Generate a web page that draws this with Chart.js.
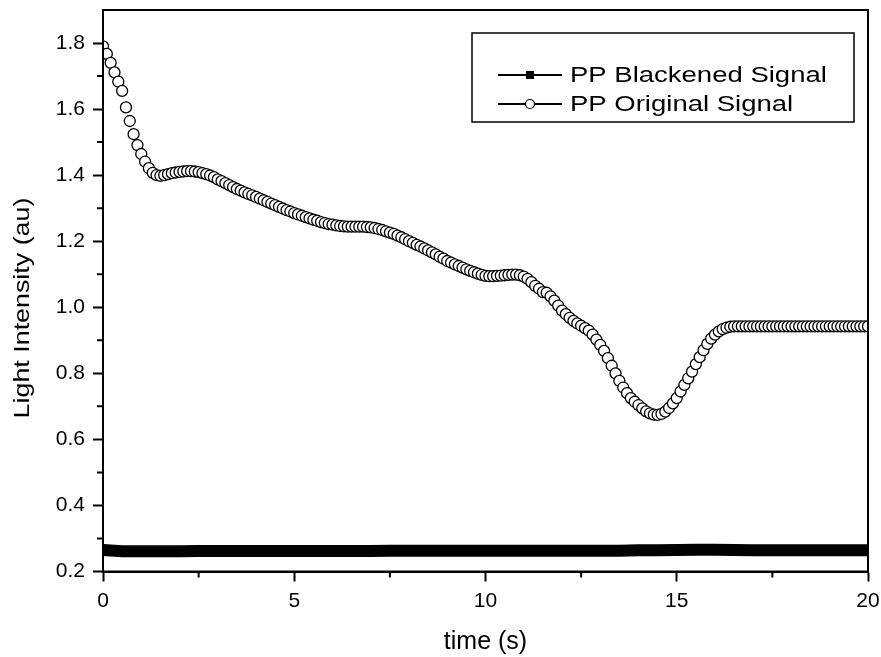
<!DOCTYPE html>
<html>
<head>
<meta charset="utf-8">
<title>PP light intensity</title>
<script src="https://cdn.jsdelivr.net/npm/chart.js@4.4.0/dist/chart.umd.min.js"></script>
<style>
html, body { margin: 0; padding: 0; background: #fff; }
#wrap { width: 881px; height: 657px; }
</style>
</head>
<body>
<div id="wrap"><canvas id="lightChart" width="881" height="657"></canvas></div>
<script>
// time axis of the original signal (s)
const originalTime = [
  0,0.1,0.2,0.3,0.4,0.5,0.6,0.7,0.8,0.9,
  1,1.1,1.2,1.3,1.4,1.5,1.6,1.7,1.8,1.9,
  2,2.1,2.2,2.3,2.4,2.5,2.6,2.7,2.8,2.9,
  3,3.1,3.2,3.3,3.4,3.5,3.6,3.7,3.8,3.9,
  4,4.1,4.2,4.3,4.4,4.5,4.6,4.7,4.8,4.9,
  5,5.1,5.2,5.3,5.4,5.5,5.6,5.7,5.8,5.9,
  6,6.1,6.2,6.3,6.4,6.5,6.6,6.7,6.8,6.9,
  7,7.1,7.2,7.3,7.4,7.5,7.6,7.7,7.8,7.9,
  8,8.1,8.2,8.3,8.4,8.5,8.6,8.7,8.8,8.9,
  9,9.1,9.2,9.3,9.4,9.5,9.6,9.7,9.8,9.9,
  10,10.1,10.2,10.3,10.4,10.5,10.6,10.7,10.8,10.9,
  11,11.1,11.2,11.3,11.4,11.5,11.6,11.7,11.8,11.9,
  12,12.1,12.2,12.3,12.4,12.5,12.6,12.7,12.8,12.9,
  13,13.1,13.2,13.3,13.4,13.5,13.6,13.7,13.8,13.9,
  14,14.1,14.2,14.3,14.4,14.5,14.6,14.7,14.8,14.9,
  15,15.1,15.2,15.3,15.4,15.5,15.6,15.7,15.8,15.9,
  16,16.1,16.2,16.3,16.4,16.5,16.6,16.7,16.8,16.9,
  17,17.1,17.2,17.3,17.4,17.5,17.6,17.7,17.8,17.9,
  18,18.1,18.2,18.3,18.4,18.5,18.6,18.7,18.8,18.9,
  19,19.1,19.2,19.3,19.4,19.5,19.6,19.7,19.8,19.9,
  20
];
// PP Original Signal (au)
const originalSignal = [
  1.790,1.767,1.740,1.711,1.683,1.655,1.605,1.564,1.524,1.491,
  1.464,1.441,1.421,1.407,1.400,1.398,1.400,1.403,1.406,1.408,
  1.410,1.411,1.412,1.412,1.411,1.409,1.406,1.403,1.399,1.394,
  1.387,1.382,1.376,1.370,1.364,1.358,1.353,1.348,1.343,1.339,
  1.334,1.329,1.324,1.319,1.314,1.309,1.304,1.299,1.294,1.290,
  1.285,1.281,1.277,1.273,1.269,1.265,1.262,1.258,1.255,1.252,
  1.250,1.248,1.246,1.245,1.244,1.244,1.244,1.244,1.244,1.243,
  1.242,1.240,1.237,1.234,1.230,1.226,1.222,1.217,1.212,1.206,
  1.200,1.195,1.189,1.184,1.178,1.172,1.166,1.160,1.153,1.147,
  1.140,1.135,1.130,1.125,1.120,1.115,1.110,1.106,1.102,1.098,
  1.095,1.094,1.094,1.095,1.096,1.097,1.098,1.099,1.099,1.097,
  1.093,1.086,1.076,1.065,1.056,1.046,1.044,1.033,1.020,1.005,
  0.990,0.979,0.968,0.959,0.951,0.944,0.937,0.929,0.917,0.902,
  0.886,0.868,0.846,0.823,0.800,0.777,0.757,0.740,0.725,0.714,
  0.704,0.694,0.685,0.679,0.675,0.674,0.677,0.684,0.695,0.709,
  0.725,0.745,0.765,0.785,0.805,0.828,0.849,0.870,0.889,0.905,
  0.917,0.927,0.934,0.938,0.941,0.942,0.942,0.942,0.942,0.942,
  0.942,0.942,0.942,0.942,0.942,0.942,0.942,0.942,0.942,0.942,
  0.942,0.942,0.942,0.942,0.942,0.942,0.942,0.942,0.942,0.942,
  0.942,0.942,0.942,0.942,0.942,0.942,0.942,0.942,0.942,0.942,
  0.942
];
// PP Blackened Signal (au)
const blackenedTime = [
  0,0.5,1,1.5,2,2.5,3,3.5,4,4.5,5,5.5,6,6.5,7,7.5,8,8.5,9,9.5,
  10,10.5,11,11.5,12,12.5,13,13.5,14,14.5,15,15.5,16,16.5,17,17.5,18,18.5,19,19.5,20
];
const blackenedSignal = [
  0.265,0.261,0.261,0.261,0.261,0.262,0.262,0.262,0.262,0.262,
  0.262,0.262,0.262,0.262,0.262,0.263,0.263,0.263,0.263,0.263,
  0.263,0.263,0.263,0.263,0.263,0.263,0.263,0.263,0.264,0.264,
  0.265,0.266,0.266,0.265,0.264,0.264,0.264,0.264,0.264,0.264,0.264
];

const yTicks = [0.2, 0.4, 0.6, 0.8, 1.0, 1.2, 1.4, 1.6, 1.8];
const yMinorTicks = [0.3, 0.5, 0.7, 0.9, 1.1, 1.3, 1.5, 1.7];
const xMinorTicks = [2.5, 7.5, 12.5, 17.5];
const legendLabels = ['PP Blackened Signal', 'PP Original Signal'];
const yTitle = 'Light Intensity (au)';

const FONT = 'Liberation Sans, Arial, sans-serif';

function toPoints(xs, ys) {
  return xs.map((x, i) => ({ x: x, y: ys[i] }));
}

// no extra room for overhanging labels, the layout padding decides
function fixPadding(s) {
  s.paddingLeft = 0; s.paddingRight = 0; s.paddingTop = 0; s.paddingBottom = 0;
}

// frame, minor ticks, y title (wide lettering) and the boxed legend
const framePlugin = {
  id: 'frameAndLegend',
  afterDraw(chart) {
    const ctx = chart.ctx;
    const area = chart.chartArea;
    const xs = chart.scales.x, ys = chart.scales.y;
    ctx.save();
    ctx.strokeStyle = '#000';
    ctx.lineWidth = 2;
    ctx.strokeRect(area.left, area.top, area.right - area.left, area.bottom - area.top);

    ctx.beginPath();
    yMinorTicks.forEach(v => {
      const py = ys.getPixelForValue(v);
      ctx.moveTo(area.left - 6, py);
      ctx.lineTo(area.left, py);
    });
    xMinorTicks.forEach(v => {
      const px = xs.getPixelForValue(v);
      ctx.moveTo(px, area.bottom);
      ctx.lineTo(px, area.bottom + 6);
    });
    ctx.stroke();

    // y axis title
    ctx.save();
    ctx.translate(29, 308);
    ctx.rotate(-Math.PI / 2);
    ctx.scale(1.22, 1);
    ctx.font = '22px ' + FONT;
    ctx.fillStyle = '#000';
    ctx.textAlign = 'center';
    ctx.textBaseline = 'alphabetic';
    ctx.fillText(yTitle, 0, 0);
    ctx.restore();

    // legend box
    ctx.lineWidth = 1.5;
    ctx.strokeRect(472, 33, 382, 89);
    ctx.font = '22px ' + FONT;
    ctx.fillStyle = '#000';
    ctx.textBaseline = 'middle';
    ctx.textAlign = 'left';
    const rows = [75, 104];
    rows.forEach((ry, i) => {
      ctx.lineWidth = 2;
      ctx.beginPath();
      ctx.moveTo(498, ry);
      ctx.lineTo(562, ry);
      ctx.stroke();
      if (i === 0) {
        ctx.fillRect(526, ry - 4, 8, 8);
      } else {
        ctx.beginPath();
        ctx.arc(530, ry, 4.5, 0, Math.PI * 2);
        ctx.fillStyle = '#fff';
        ctx.fill();
        ctx.lineWidth = 1.2;
        ctx.stroke();
        ctx.fillStyle = '#000';
      }
      ctx.save();
      ctx.translate(570, ry + 1);
      ctx.scale(1.25, 1);
      ctx.fillText(legendLabels[i], 0, 0);
      ctx.restore();
    });
    ctx.restore();
  }
};

const data = {
  datasets: [
    {
      label: legendLabels[0],
      data: toPoints(blackenedTime, blackenedSignal),
      borderColor: '#000',
      backgroundColor: '#000',
      borderWidth: 12,
      pointRadius: 0,
      showLine: true,
      tension: 0
    },
    {
      label: legendLabels[1],
      data: toPoints(originalTime, originalSignal),
      showLine: false,
      pointRadius: 5.5,
      pointBorderWidth: 1.3,
      pointBorderColor: '#000',
      pointBackgroundColor: '#fff'
    }
  ]
};

const options = {
  responsive: false,
  animation: false,
  layout: { padding: { left: 0, right: 13, top: 10, bottom: 0 } },
  plugins: { legend: { display: false }, tooltip: { enabled: false } },
  scales: {
    x: {
      type: 'linear',
      min: 0,
      max: 20,
      afterFit: s => { s.height = 85.5; fixPadding(s); },
      ticks: { stepSize: 5, color: '#000', font: { family: FONT, size: 21 }, padding: 7 },
      grid: { drawOnChartArea: false, tickLength: 10, tickColor: '#000', tickWidth: 2 },
      border: { color: '#000', width: 2 },
      title: { display: true, text: 'time (s)', color: '#000', font: { family: FONT, size: 25 }, padding: { top: 0, bottom: 0 } }
    },
    y: {
      type: 'linear',
      min: 0.2,
      max: 1.9,
      afterFit: s => { s.width = 103; fixPadding(s); },
      afterBuildTicks: s => { s.ticks = yTicks.map(v => ({ value: v })); },
      ticks: { color: '#000', font: { family: FONT, size: 21 }, padding: 8, callback: v => v.toFixed(1) },
      grid: { drawOnChartArea: false, tickLength: 10, tickColor: '#000', tickWidth: 2 },
      border: { color: '#000', width: 2 },
      title: { display: false }
    }
  }
};

new Chart('lightChart', { type: 'scatter', data, options, plugins: [framePlugin] });
</script>
</body>
</html>
